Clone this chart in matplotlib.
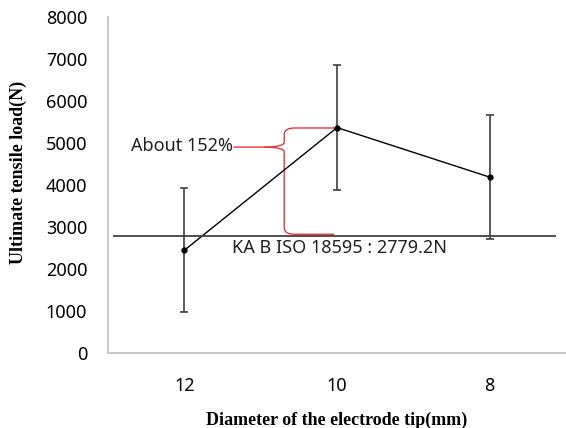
import matplotlib
matplotlib.use("Agg")
import matplotlib.pyplot as plt
from matplotlib.path import Path
from matplotlib.patches import PathPatch

categories = ["12", "10", "8"]
values = [2450, 5370, 4190]
errors = [1470, 1480, 1470]
standard = 2779.2
y_ticks = [0, 1000, 2000, 3000, 4000, 5000, 6000, 7000, 8000]

fig = plt.figure(figsize=(5.66, 4.28), dpi=100)
ax = fig.add_axes([0.191, 0.175, 0.809, 0.785])

xs = [i + 0.5 for i in range(len(categories))]
ax.errorbar(xs, values, yerr=errors, fmt='none', ecolor='#404040', elinewidth=1.2, capsize=3, capthick=1.2)
ax.plot(xs, values, color='black', lw=1.0, marker='o', markersize=3.5)

ax.plot([0.04, 2.93], [standard, standard], color='#404040', lw=1.3)
ax.text(0.81, 2500, "KA B ISO 18595 : 2779.2N", fontsize=13, family='Noto Sans', va='center', ha='left', color='#222222')

ax.text(0.15, 4920, "About 152%", fontsize=13, family='Noto Sans', va='center', ha='left', color='#222222')

# red brace
xb = 1.154
top = values[1] - 10
bot = standard + 50
mid = 4905
verts = [
    (0.82, mid), (1.02, mid),
    (xb, mid), (xb, mid + 120),
    (xb, top - 150),
    (xb, top), (xb + 0.07, top),
    (1.49, top),
]
codes = [Path.MOVETO, Path.LINETO, Path.CURVE3, Path.CURVE3, Path.LINETO, Path.CURVE3, Path.CURVE3, Path.LINETO]
ax.add_patch(PathPatch(Path(verts, codes), fill=False, edgecolor='#e8373b', lw=1.0))
verts2 = [
    (1.02, mid), (xb, mid), (xb, mid - 120),
    (xb, bot + 150),
    (xb, bot), (xb + 0.07, bot),
    (1.48, bot),
]
codes2 = [Path.MOVETO, Path.CURVE3, Path.CURVE3, Path.LINETO, Path.CURVE3, Path.CURVE3, Path.LINETO]
ax.add_patch(PathPatch(Path(verts2, codes2), fill=False, edgecolor='#e8373b', lw=1.0))

ax.set_xlim(0, 3)
ax.set_ylim(0, 8000)
ax.set_xticks(xs)
ax.set_xticklabels(categories, family='Noto Sans', fontsize=13)
ax.set_yticks(y_ticks)
ax.set_yticklabels([str(t) for t in y_ticks], family='Noto Sans', fontsize=13)
ax.tick_params(axis='both', length=0)
ax.tick_params(axis='y', pad=15)
ax.tick_params(axis='x', pad=17)
for s in ['top', 'right']:
    ax.spines[s].set_visible(False)
for s in ['left', 'bottom']:
    ax.spines[s].set_color('#bfbfbf')
    ax.spines[s].set_linewidth(1.2)

ax.set_ylabel("Ultimate tensile load(N)", family='Liberation Serif', fontweight='bold', fontsize=13)
ax.yaxis.set_label_coords(-0.178, 0.539)
ax.set_xlabel("Diameter of the electrode tip(mm)", family='Liberation Serif', fontweight='bold', fontsize=13, labelpad=12)

fig.savefig("out.png", dpi=100)
